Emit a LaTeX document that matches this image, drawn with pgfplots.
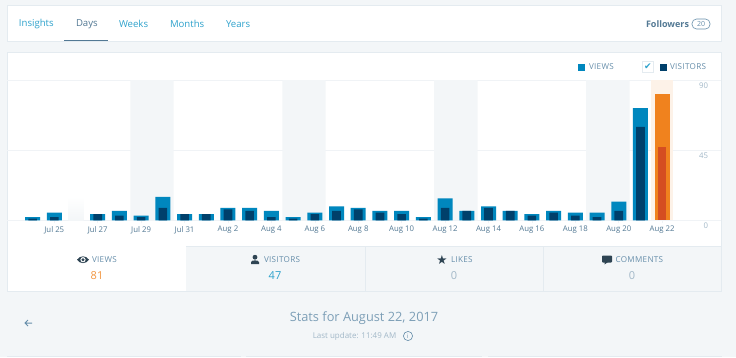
\documentclass[border=0pt]{standalone}
\usepackage{pgfplots}
\pgfplotsset{compat=1.18}
\usepackage{fontspec}
\setmainfont{Open Sans}
\newfontfamily\djv{DejaVu Sans}
\newfontfamily\caps[LetterSpace=4]{Open Sans}
\definecolor{pagebg}{HTML}{F3F6F8}
\definecolor{edge}{HTML}{E4EBF0}
\definecolor{wpblue}{HTML}{0087BE}
\definecolor{wpdark}{HTML}{00406B}
\definecolor{wporange}{HTML}{F0821E}
\definecolor{wpred}{HTML}{D54E21}
\definecolor{hl}{HTML}{FDF2E8}
\definecolor{linkc}{HTML}{2EA2CC}
\definecolor{slate}{HTML}{668EAA}
\definecolor{dslate}{HTML}{537994}
\definecolor{lslate}{HTML}{A2B8C8}
\definecolor{ink}{HTML}{2E4453}
\definecolor{gridc}{HTML}{F0F3F6}
\begin{document}
\begin{tikzpicture}[x=1pt,y=-1pt,inner sep=0pt,outer sep=0pt]
\fill[pagebg] (0,0) rectangle (736,357);
% top panel
\filldraw[fill=white,draw=edge,line width=.8pt] (7.4,5.4) rectangle (721.6,41);
\fill[dslate] (64,39.6) rectangle (108,41);
\node[font=\fontsize{9.6}{11}\selectfont,text=linkc,anchor=west] at (19,24) {Insights};
\node[font=\fontsize{9.6}{11}\selectfont,text=dslate,anchor=west] at (76,24) {Days};
\node[font=\fontsize{9.6}{11}\selectfont,text=linkc,anchor=west] at (119,24) {Weeks};
\node[font=\fontsize{9.6}{11}\selectfont,text=linkc,anchor=west] at (170,24) {Months};
\node[font=\fontsize{9.6}{11}\selectfont,text=linkc,anchor=west] at (226,24) {Years};
\node[font=\fontsize{9}{11}\selectfont\bfseries,text=dslate,anchor=east] at (689,24) {Followers};
\draw[slate,line width=.6pt,rounded corners=4.5pt] (692,19) rectangle (710,29);
\node[font=\fontsize{7}{8}\selectfont,text=slate] at (701,24) {20};
% chart panel
\filldraw[fill=white,draw=edge,line width=.8pt] (7.4,52.4) rectangle (721.6,246);
\fill[pagebg] (186,246) rectangle (721.6,291);
\draw[edge,line width=.8pt] (7.4,246) -- (7.4,291.4) -- (721.6,291.4) -- (721.6,246);
\fill[white] (7.8,246) rectangle (186,291);
\draw[edge,line width=.5pt] (186,246) -- (721.6,246);
\draw[edge,line width=.5pt] (365.7,246) -- (365.7,291) (543.7,246) -- (543.7,291);
% legend
\fill[wpblue] (578,63.5) rectangle (585.2,70.5);
\node[font=\caps\fontsize{8.1}{9}\selectfont,text=slate,anchor=west] at (589,67) {VIEWS};
\draw[edge,fill=white,line width=.7pt] (642.5,61.5) rectangle (653.5,72.5);
\node[font=\djv\fontsize{9}{10}\selectfont,text=linkc] at (648,67) {✔};
\fill[wpdark] (659.5,63.5) rectangle (666.5,70.5);
\node[font=\caps\fontsize{8.1}{9}\selectfont,text=slate,anchor=west] at (670,67) {VISITORS};
% chart
\begin{axis}[
  at={(7pt,-220.3pt)},anchor=south west,
  scale only axis,width=714pt,height=140.3pt,
  xmin=-1.179,xmax=31.71,ymin=0,ymax=90,
  axis line style={draw=none},
  clip=false,
  ytick={0,45,90},
  yticklabel pos=right,
  ymajorgrids,
  grid style={gridc,line width=.7pt},
  y tick style={draw=none},
  xtick pos=bottom,
  x tick style={gridc,line width=.6pt},
  major tick length=3pt,
  xtick={1,3,5,7,9,11,13,15,17,19,21,23,25,27,29},
  xticklabels={Jul 25,Jul 27,Jul 29,Jul 31,Aug 2,Aug 4,Aug 6,Aug 8,Aug 10,Aug 12,Aug 14,Aug 16,Aug 18,Aug 20,Aug 22},
  xticklabel style={font=\fontsize{7.8}{9}\selectfont,text=dslate,yshift=-3pt},
  yticklabel style={font=\fontsize{7.8}{9}\selectfont,text=lslate,anchor=east,xshift=-13pt,yshift=-5.5pt,/pgf/number format/assume math mode=true},
  ybar,bar shift=0pt,
]
\addplot[fill=pagebg,draw=none,bar width=21.71pt] coordinates {(5,90)(6,90)(12,90)(13,90)(19,90)(20,90)(26,90)(27,90)};
\addplot[fill=hl,draw=none,bar width=22pt] coordinates {(29,90)};
\addplot[draw=none,bar width=15pt,top color=white,bottom color=pagebg] coordinates {(2,15)};
\addplot[fill=wpblue,draw=none,bar width=15pt] coordinates {
(0,2)(1,5)(3,4)(4,6)(5,3)(6,15)(7,4)(8,4)(9,8)(10,8)(11,6)(12,2)(13,5)(14,9)(15,8)
(16,6)(17,6)(18,2)(19,14)(20,6)(21,9)(22,6)(23,4)(24,6)(25,5)(26,5)(27,12)(28,72)};
\addplot[fill=wpdark,draw=none,bar width=8.6pt] coordinates {
(0,1)(1,2)(3,4)(4,3)(5,2)(6,8)(7,4)(8,4)(9,7)(10,6)(11,2)(12,1)(13,4)(14,6)(15,7)
(16,5)(17,4)(18,1)(19,8)(20,6)(21,8)(22,6)(23,3)(24,5)(25,3)(26,2)(27,6)(28,60)};
\addplot[fill=wporange,draw=none,bar width=15pt] coordinates {(29,81)};
\addplot[fill=wpred,draw=none,bar width=8.6pt] coordinates {(29,47)};
\end{axis}
% tabs: icons and text
\newcommand{\tabtext}[3]{%
  \node[font=\caps\fontsize{8.1}{9}\selectfont,text=slate,anchor=west] at (#1,#2) {#3};
}
% eye
\fill[ink] (77,259.7) .. controls (80,255.2) and (86,255.2) .. (89,259.7) .. controls (86,264.2) and (80,264.2) .. (77,259.7) -- cycle;
\fill[white] (83,259.7) circle (2.6);
\fill[ink] (83,259.7) circle (1.6);
\tabtext{92}{260}{VIEWS}
\node[font=\fontsize{11}{13}\selectfont,text=wporange!85] at (97,276) {81};
% person
\fill[ink] (255,257.2) circle (2.4);
\fill[ink] (251,264) -- (251,262) .. controls (251,259.8) and (259,259.8) .. (259,262) -- (259,264) -- cycle;
\tabtext{264}{260}{VISITORS}
\node[font=\fontsize{11}{13}\selectfont,text=linkc] at (275,276) {47};
% star
\node[font=\djv\fontsize{12.5}{14}\selectfont,text=ink] at (442,260) {★};
\tabtext{451}{260}{LIKES}
\node[font=\fontsize{11}{13}\selectfont,text=lslate] at (454,276) {0};
% comment
\fill[ink,rounded corners=.8pt] (602,255.5) rectangle (612,262.5);
\fill[ink] (604.5,262) -- (608,262) -- (604.5,264.5) -- cycle;
\tabtext{615.5}{260}{COMMENTS}
\node[font=\fontsize{11}{13}\selectfont,text=lslate] at (632,276) {0};
% footer
\draw[slate,line width=1pt] (32,323) -- (25,323) (28,320) -- (25,323) -- (28,326);
\node[font=\fontsize{12.8}{15}\selectfont,text=slate!85] at (364,318) {Stats for August 22, 2017};
\node[font=\fontsize{8}{10}\selectfont,text=lslate] at (354.5,336) {Last update: 11:49 AM};
\draw[slate,line width=.6pt] (408,336) circle (4.6);
\node[font=\fontsize{6}{7}\selectfont,text=slate] at (408,336) {i};
\draw[edge,line width=.8pt] (7,356.5) -- (241,356.5) (246,356.5) -- (482,356.5) (488,356.5) -- (722,356.5);
\path[use as bounding box] (0,0) rectangle (736,357);
\end{tikzpicture}
\end{document}
